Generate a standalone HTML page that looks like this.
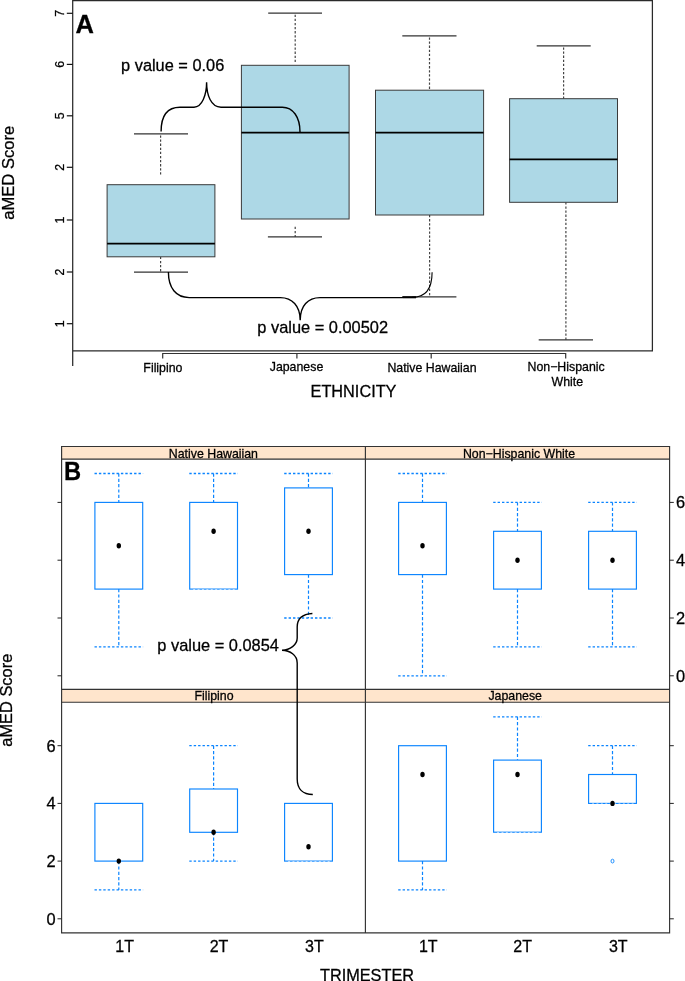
<!DOCTYPE html>
<html lang="en"><head><meta charset="utf-8"><title>aMED Score by ethnicity and trimester</title>
<style>html,body{margin:0;padding:0;background:#fff;}body{width:685px;height:981px;overflow:hidden;}svg{display:block;}text{font-family:"Liberation Sans", Arial, Helvetica, sans-serif;fill:#000;stroke:#000;stroke-width:0.28px;}</style>
</head><body>
<svg width="685" height="981" viewBox="0 0 685 981">
<rect x="0" y="0" width="685" height="981" fill="#fff"/>
<g id="panelA">
<line x1="160.6" y1="135.4" x2="160.6" y2="175.5" stroke="#444" stroke-width="1.2" stroke-dasharray="2.3 1.8"/>
<line x1="160.6" y1="256.8" x2="160.6" y2="272.1" stroke="#444" stroke-width="1.2" stroke-dasharray="2.3 1.8"/>
<line x1="134.0" y1="133.9" x2="188.0" y2="133.9" stroke="#333" stroke-width="1.3"/>
<line x1="134.0" y1="272.1" x2="188.0" y2="272.1" stroke="#333" stroke-width="1.3"/>
<rect x="107.1" y="184.7" width="107.8" height="72.1" fill="#ADD8E6" stroke="#3a3a3a" stroke-width="1"/>
<line x1="107.1" y1="243.5" x2="214.9" y2="243.5" stroke="#000" stroke-width="1.75"/>
<line x1="295.2" y1="14.7" x2="295.2" y2="63.0" stroke="#444" stroke-width="1.2" stroke-dasharray="2.3 1.8"/>
<line x1="295.2" y1="226.8" x2="295.2" y2="236.9" stroke="#444" stroke-width="1.2" stroke-dasharray="2.3 1.8"/>
<line x1="268.2" y1="13.2" x2="322.0" y2="13.2" stroke="#333" stroke-width="1.3"/>
<line x1="267.9" y1="236.9" x2="322.0" y2="236.9" stroke="#333" stroke-width="1.3"/>
<rect x="241.4" y="65.3" width="107.7" height="153.7" fill="#ADD8E6" stroke="#3a3a3a" stroke-width="1"/>
<line x1="241.4" y1="132.6" x2="349.1" y2="132.6" stroke="#000" stroke-width="1.75"/>
<line x1="429.5" y1="37.4" x2="429.5" y2="90.2" stroke="#444" stroke-width="1.2" stroke-dasharray="2.3 1.8"/>
<line x1="429.6" y1="215.0" x2="429.6" y2="296.9" stroke="#444" stroke-width="1.2" stroke-dasharray="2.3 1.8"/>
<line x1="402.3" y1="35.9" x2="456.5" y2="35.9" stroke="#333" stroke-width="1.3"/>
<line x1="402.0" y1="296.9" x2="456.4" y2="296.9" stroke="#333" stroke-width="1.3"/>
<rect x="375.5" y="90.2" width="108.1" height="124.8" fill="#ADD8E6" stroke="#3a3a3a" stroke-width="1"/>
<line x1="375.5" y1="132.6" x2="483.6" y2="132.6" stroke="#000" stroke-width="1.75"/>
<line x1="563.6" y1="47.4" x2="563.6" y2="98.7" stroke="#444" stroke-width="1.2" stroke-dasharray="2.3 1.8"/>
<line x1="565.9" y1="202.3" x2="565.9" y2="339.8" stroke="#444" stroke-width="1.2" stroke-dasharray="2.3 1.8"/>
<line x1="536.7" y1="45.9" x2="590.7" y2="45.9" stroke="#333" stroke-width="1.3"/>
<line x1="538.7" y1="339.8" x2="593.0" y2="339.8" stroke="#333" stroke-width="1.3"/>
<rect x="509.6" y="98.7" width="107.9" height="103.6" fill="#ADD8E6" stroke="#3a3a3a" stroke-width="1"/>
<line x1="509.6" y1="159.3" x2="617.5" y2="159.3" stroke="#000" stroke-width="1.75"/>
<path d="M72.7,366 L72.7,0.6 L652.4,0.6 L652.4,350.8 L72.7,350.8" fill="none" stroke="#2a2a2a" stroke-width="1.25"/>
<line x1="66.8" y1="13.3" x2="72.7" y2="13.3" stroke="#111" stroke-width="1.2"/>
<text transform="translate(63.8,13.3) rotate(-90)" text-anchor="middle" font-size="12.35">7</text>
<line x1="66.8" y1="64.4" x2="72.7" y2="64.4" stroke="#111" stroke-width="1.2"/>
<text transform="translate(63.8,64.4) rotate(-90)" text-anchor="middle" font-size="12.35">6</text>
<line x1="66.8" y1="115.8" x2="72.7" y2="115.8" stroke="#111" stroke-width="1.2"/>
<text transform="translate(63.8,115.8) rotate(-90)" text-anchor="middle" font-size="12.35">5</text>
<line x1="66.8" y1="167.3" x2="72.7" y2="167.3" stroke="#111" stroke-width="1.2"/>
<text transform="translate(63.8,167.3) rotate(-90)" text-anchor="middle" font-size="12.35">2</text>
<line x1="66.8" y1="220.0" x2="72.7" y2="220.0" stroke="#111" stroke-width="1.2"/>
<text transform="translate(63.8,220.0) rotate(-90)" text-anchor="middle" font-size="12.35">1</text>
<line x1="66.8" y1="272.0" x2="72.7" y2="272.0" stroke="#111" stroke-width="1.2"/>
<text transform="translate(63.8,272.0) rotate(-90)" text-anchor="middle" font-size="12.35">2</text>
<line x1="66.8" y1="323.7" x2="72.7" y2="323.7" stroke="#111" stroke-width="1.2"/>
<text transform="translate(63.8,323.7) rotate(-90)" text-anchor="middle" font-size="12.35">1</text>
<text transform="translate(14.2,172.8) rotate(-90)" text-anchor="middle" font-size="16.6">aMED Score</text>
<path d="M162.7,358.6 L162.7,353.5 L565.7,353.5 L565.7,358.6 M296.9,353.5 L296.9,358.6 M431.2,353.5 L431.2,358.6" fill="none" stroke="#333" stroke-width="1.2"/>
<text x="162.9" y="371.7" text-anchor="middle" font-size="12.35">Filipino</text>
<text x="296.5" y="371.3" text-anchor="middle" font-size="12.35">Japanese</text>
<text x="432" y="371.8" text-anchor="middle" font-size="12.35">Native Hawaiian</text>
<text x="566.1" y="370.6" text-anchor="middle" font-size="12.35">Non−Hispanic</text>
<text x="567.3" y="385.5" text-anchor="middle" font-size="12.35">White</text>
<text x="353.5" y="396.7" text-anchor="middle" font-size="16.3">ETHNICITY</text>
<text x="75.6" y="33" font-size="25.5" font-weight="bold" stroke="none">A</text>
<path d="M161.1,131.5 C161.1,115 168,107.2 180,107.2 L194,107.2 C202,107.2 206.6,95 206.6,82.3 C206.6,95 211,107.2 221,107.2 L282.3,107.2 C293,107.2 300,117 300,132" fill="none" stroke="#000" stroke-width="1.4"/>
<text x="121.1" y="70.5" font-size="16.35">p value = 0.06</text>
<path d="M168.4,272.1 C168.4,288 176,297.6 189.2,297.6 L280.4,297.6 C292,297.6 300.2,306 300.2,320.2 C300.2,306 308,297.6 320,297.6 L403,297.6" fill="none" stroke="#000" stroke-width="1.4"/>
<path d="M403,297.3 L416,297.3" fill="none" stroke="#000" stroke-width="2"/>
<path d="M412,297.4 C424,297.4 432.1,290 432.1,272.2" fill="none" stroke="#000" stroke-width="1.1"/>
<text x="257.3" y="332.8" font-size="16.4">p value = 0.00502</text>
</g>
<g id="panelB">
<rect x="61.6" y="446.5" width="608.0" height="12.6" fill="#FFE5CC"/>
<rect x="61.6" y="689.4" width="608.0" height="12.8" fill="#FFE5CC"/>
<rect x="94.9" y="502.4" width="47.8" height="86.7" fill="#fff" stroke="#0A84FF" stroke-width="1.15"/>
<line x1="118.8" y1="473.5" x2="118.8" y2="502.4" stroke="#0A84FF" stroke-width="1.2" stroke-dasharray="3.2 2.1"/>
<line x1="94.5" y1="473.5" x2="143.1" y2="473.5" stroke="#0A84FF" stroke-width="1.3" stroke-dasharray="2.4 2"/>
<line x1="118.8" y1="589.1" x2="118.8" y2="646.9" stroke="#0A84FF" stroke-width="1.2" stroke-dasharray="3.2 2.1"/>
<line x1="94.5" y1="646.9" x2="143.1" y2="646.9" stroke="#0A84FF" stroke-width="1.3" stroke-dasharray="2.4 2"/>
<ellipse cx="118.8" cy="545.8" rx="2.2" ry="2.7" fill="#000"/>
<rect x="189.7" y="502.4" width="47.8" height="86.7" fill="#fff" stroke="#0A84FF" stroke-width="1.15"/>
<line x1="213.6" y1="473.5" x2="213.6" y2="502.4" stroke="#0A84FF" stroke-width="1.2" stroke-dasharray="3.2 2.1"/>
<line x1="189.3" y1="473.5" x2="237.9" y2="473.5" stroke="#0A84FF" stroke-width="1.3" stroke-dasharray="2.4 2"/>
<line x1="190.7" y1="589.5" x2="236.5" y2="589.5" stroke="#fff" stroke-width="1.2" stroke-dasharray="1.9 2.5" stroke-dashoffset="-2.5" opacity="0.6"/>
<ellipse cx="213.6" cy="531.3" rx="2.2" ry="2.7" fill="#000"/>
<rect x="284.6" y="487.9" width="47.8" height="86.7" fill="#fff" stroke="#0A84FF" stroke-width="1.15"/>
<line x1="308.5" y1="473.5" x2="308.5" y2="487.9" stroke="#0A84FF" stroke-width="1.2" stroke-dasharray="3.2 2.1"/>
<line x1="284.2" y1="473.5" x2="332.8" y2="473.5" stroke="#0A84FF" stroke-width="1.3" stroke-dasharray="2.4 2"/>
<line x1="308.5" y1="574.6" x2="308.5" y2="618.0" stroke="#0A84FF" stroke-width="1.2" stroke-dasharray="3.2 2.1"/>
<line x1="284.2" y1="618.0" x2="332.8" y2="618.0" stroke="#0A84FF" stroke-width="1.3" stroke-dasharray="2.4 2"/>
<ellipse cx="308.5" cy="531.3" rx="2.2" ry="2.7" fill="#000"/>
<rect x="398.6" y="502.4" width="47.8" height="72.2" fill="#fff" stroke="#0A84FF" stroke-width="1.15"/>
<line x1="422.5" y1="473.5" x2="422.5" y2="502.4" stroke="#0A84FF" stroke-width="1.2" stroke-dasharray="3.2 2.1"/>
<line x1="398.2" y1="473.5" x2="446.8" y2="473.5" stroke="#0A84FF" stroke-width="1.3" stroke-dasharray="2.4 2"/>
<line x1="422.5" y1="574.6" x2="422.5" y2="675.8" stroke="#0A84FF" stroke-width="1.2" stroke-dasharray="3.2 2.1"/>
<line x1="398.2" y1="675.8" x2="446.8" y2="675.8" stroke="#0A84FF" stroke-width="1.3" stroke-dasharray="2.4 2"/>
<ellipse cx="422.5" cy="545.8" rx="2.2" ry="2.7" fill="#000"/>
<rect x="493.6" y="531.3" width="47.8" height="57.8" fill="#fff" stroke="#0A84FF" stroke-width="1.15"/>
<line x1="517.5" y1="502.4" x2="517.5" y2="531.3" stroke="#0A84FF" stroke-width="1.2" stroke-dasharray="3.2 2.1"/>
<line x1="493.2" y1="502.4" x2="541.8" y2="502.4" stroke="#0A84FF" stroke-width="1.3" stroke-dasharray="2.4 2"/>
<line x1="517.5" y1="589.1" x2="517.5" y2="646.9" stroke="#0A84FF" stroke-width="1.2" stroke-dasharray="3.2 2.1"/>
<line x1="493.2" y1="646.9" x2="541.8" y2="646.9" stroke="#0A84FF" stroke-width="1.3" stroke-dasharray="2.4 2"/>
<ellipse cx="517.5" cy="560.2" rx="2.2" ry="2.7" fill="#000"/>
<rect x="588.6" y="531.3" width="47.8" height="57.8" fill="#fff" stroke="#0A84FF" stroke-width="1.15"/>
<line x1="612.5" y1="502.4" x2="612.5" y2="531.3" stroke="#0A84FF" stroke-width="1.2" stroke-dasharray="3.2 2.1"/>
<line x1="588.2" y1="502.4" x2="636.8" y2="502.4" stroke="#0A84FF" stroke-width="1.3" stroke-dasharray="2.4 2"/>
<line x1="612.5" y1="589.1" x2="612.5" y2="646.9" stroke="#0A84FF" stroke-width="1.2" stroke-dasharray="3.2 2.1"/>
<line x1="588.2" y1="646.9" x2="636.8" y2="646.9" stroke="#0A84FF" stroke-width="1.3" stroke-dasharray="2.4 2"/>
<ellipse cx="612.5" cy="560.2" rx="2.2" ry="2.7" fill="#000"/>
<rect x="94.9" y="803.4" width="47.8" height="57.7" fill="#fff" stroke="#0A84FF" stroke-width="1.15"/>
<line x1="118.8" y1="861.1" x2="118.8" y2="889.9" stroke="#0A84FF" stroke-width="1.2" stroke-dasharray="3.2 2.1"/>
<line x1="94.5" y1="889.9" x2="143.1" y2="889.9" stroke="#0A84FF" stroke-width="1.3" stroke-dasharray="2.4 2"/>
<ellipse cx="118.8" cy="861.1" rx="2.2" ry="2.7" fill="#000"/>
<rect x="189.7" y="789.0" width="47.8" height="43.3" fill="#fff" stroke="#0A84FF" stroke-width="1.15"/>
<line x1="213.6" y1="745.7" x2="213.6" y2="789.0" stroke="#0A84FF" stroke-width="1.2" stroke-dasharray="3.2 2.1"/>
<line x1="189.3" y1="745.7" x2="237.9" y2="745.7" stroke="#0A84FF" stroke-width="1.3" stroke-dasharray="2.4 2"/>
<line x1="213.6" y1="832.2" x2="213.6" y2="861.1" stroke="#0A84FF" stroke-width="1.2" stroke-dasharray="3.2 2.1"/>
<line x1="189.3" y1="861.1" x2="237.9" y2="861.1" stroke="#0A84FF" stroke-width="1.3" stroke-dasharray="2.4 2"/>
<ellipse cx="213.6" cy="832.2" rx="2.2" ry="2.7" fill="#000"/>
<rect x="284.6" y="803.4" width="47.8" height="57.7" fill="#fff" stroke="#0A84FF" stroke-width="1.15"/>
<line x1="285.6" y1="861.5" x2="331.4" y2="861.5" stroke="#fff" stroke-width="1.2" stroke-dasharray="1.9 2.5" stroke-dashoffset="-2.5" opacity="0.6"/>
<ellipse cx="308.5" cy="846.7" rx="2.2" ry="2.7" fill="#000"/>
<rect x="398.6" y="745.7" width="47.8" height="115.4" fill="#fff" stroke="#0A84FF" stroke-width="1.15"/>
<line x1="422.5" y1="861.1" x2="422.5" y2="889.9" stroke="#0A84FF" stroke-width="1.2" stroke-dasharray="3.2 2.1"/>
<line x1="398.2" y1="889.9" x2="446.8" y2="889.9" stroke="#0A84FF" stroke-width="1.3" stroke-dasharray="2.4 2"/>
<ellipse cx="422.5" cy="774.5" rx="2.2" ry="2.7" fill="#000"/>
<rect x="493.6" y="760.1" width="47.8" height="72.1" fill="#fff" stroke="#0A84FF" stroke-width="1.15"/>
<line x1="517.5" y1="716.8" x2="517.5" y2="760.1" stroke="#0A84FF" stroke-width="1.2" stroke-dasharray="3.2 2.1"/>
<line x1="493.2" y1="716.8" x2="541.8" y2="716.8" stroke="#0A84FF" stroke-width="1.3" stroke-dasharray="2.4 2"/>
<line x1="494.6" y1="832.6" x2="540.4" y2="832.6" stroke="#fff" stroke-width="1.2" stroke-dasharray="1.9 2.5" stroke-dashoffset="-2.5" opacity="0.6"/>
<ellipse cx="517.5" cy="774.5" rx="2.2" ry="2.7" fill="#000"/>
<rect x="588.6" y="774.5" width="47.8" height="28.9" fill="#fff" stroke="#0A84FF" stroke-width="1.15"/>
<line x1="612.5" y1="745.7" x2="612.5" y2="774.5" stroke="#0A84FF" stroke-width="1.2" stroke-dasharray="3.2 2.1"/>
<line x1="588.2" y1="745.7" x2="636.8" y2="745.7" stroke="#0A84FF" stroke-width="1.3" stroke-dasharray="2.4 2"/>
<line x1="589.6" y1="803.8" x2="635.4" y2="803.8" stroke="#fff" stroke-width="1.2" stroke-dasharray="1.9 2.5" stroke-dashoffset="-2.5" opacity="0.6"/>
<ellipse cx="612.5" cy="861.1" rx="1.5" ry="1.9" fill="none" stroke="#0A84FF" stroke-width="0.9"/>
<ellipse cx="612.5" cy="803.4" rx="2.2" ry="2.7" fill="#000"/>
<path d="M61.6,446.5 H669.6 V932.8 H61.6 Z M61.6,459.1 H669.6 M61.6,689.4 H669.6 M61.6,702.2 H669.6 M365.4,446.5 V932.8" fill="none" stroke="#333" stroke-width="1.15"/>
<line x1="57.5" y1="502.4" x2="61.6" y2="502.4" stroke="#222" stroke-width="1"/>
<line x1="669.6" y1="502.4" x2="673.8" y2="502.4" stroke="#222" stroke-width="1"/>
<line x1="57.5" y1="560.2" x2="61.6" y2="560.2" stroke="#222" stroke-width="1"/>
<line x1="669.6" y1="560.2" x2="673.8" y2="560.2" stroke="#222" stroke-width="1"/>
<line x1="57.5" y1="618.0" x2="61.6" y2="618.0" stroke="#222" stroke-width="1"/>
<line x1="669.6" y1="618.0" x2="673.8" y2="618.0" stroke="#222" stroke-width="1"/>
<line x1="57.5" y1="675.8" x2="61.6" y2="675.8" stroke="#222" stroke-width="1"/>
<line x1="669.6" y1="675.8" x2="673.8" y2="675.8" stroke="#222" stroke-width="1"/>
<line x1="57.5" y1="745.7" x2="61.6" y2="745.7" stroke="#222" stroke-width="1"/>
<line x1="669.6" y1="745.7" x2="673.8" y2="745.7" stroke="#222" stroke-width="1"/>
<line x1="57.5" y1="803.4" x2="61.6" y2="803.4" stroke="#222" stroke-width="1"/>
<line x1="669.6" y1="803.4" x2="673.8" y2="803.4" stroke="#222" stroke-width="1"/>
<line x1="57.5" y1="861.1" x2="61.6" y2="861.1" stroke="#222" stroke-width="1"/>
<line x1="669.6" y1="861.1" x2="673.8" y2="861.1" stroke="#222" stroke-width="1"/>
<line x1="57.5" y1="918.8" x2="61.6" y2="918.8" stroke="#222" stroke-width="1"/>
<line x1="669.6" y1="918.8" x2="673.8" y2="918.8" stroke="#222" stroke-width="1"/>
<text x="675.9" y="508.3" font-size="16.4">6</text>
<text x="55.6" y="751.6" font-size="16.4" text-anchor="end">6</text>
<text x="675.9" y="566.1" font-size="16.4">4</text>
<text x="55.6" y="809.3" font-size="16.4" text-anchor="end">4</text>
<text x="675.9" y="623.9" font-size="16.4">2</text>
<text x="55.6" y="867.0" font-size="16.4" text-anchor="end">2</text>
<text x="675.9" y="681.7" font-size="16.4">0</text>
<text x="55.6" y="924.7" font-size="16.4" text-anchor="end">0</text>
<text x="213.4" y="457.7" text-anchor="middle" font-size="12.35">Native Hawaiian</text>
<text x="519" y="457.7" text-anchor="middle" font-size="12.35">Non−Hispanic White</text>
<text x="214" y="699.7" text-anchor="middle" font-size="12.35">Filipino</text>
<text x="515.2" y="699.6" text-anchor="middle" font-size="12.35">Japanese</text>
<text x="124.6" y="952" text-anchor="middle" font-size="16">1T</text>
<text x="219.0" y="952" text-anchor="middle" font-size="16">2T</text>
<text x="314.4" y="952" text-anchor="middle" font-size="16">3T</text>
<text x="428.3" y="952" text-anchor="middle" font-size="16">1T</text>
<text x="522.6" y="952" text-anchor="middle" font-size="16">2T</text>
<text x="618.3" y="952" text-anchor="middle" font-size="16">3T</text>
<text x="367" y="980.6" text-anchor="middle" font-size="16.3">TRIMESTER</text>
<text transform="translate(12.2,700.2) rotate(-90)" text-anchor="middle" font-size="16.4">aMED Score</text>
<text transform="translate(63.9,480.1) scale(0.93,1)" font-size="25.5" font-weight="bold" stroke="none">B</text>
<path d="M312.4,613.5 C303,614 297.2,618 297.2,627 L297.2,638 C297.2,645 290,650 282,650.3 C290,650.6 297.2,655 297.2,663 L297.2,779 C297.2,789 303,794.5 312.8,794.5" fill="none" stroke="#000" stroke-width="1.4"/>
<text x="157.3" y="650.9" font-size="16.4">p value = 0.0854</text>
</g>
</svg></body></html>
